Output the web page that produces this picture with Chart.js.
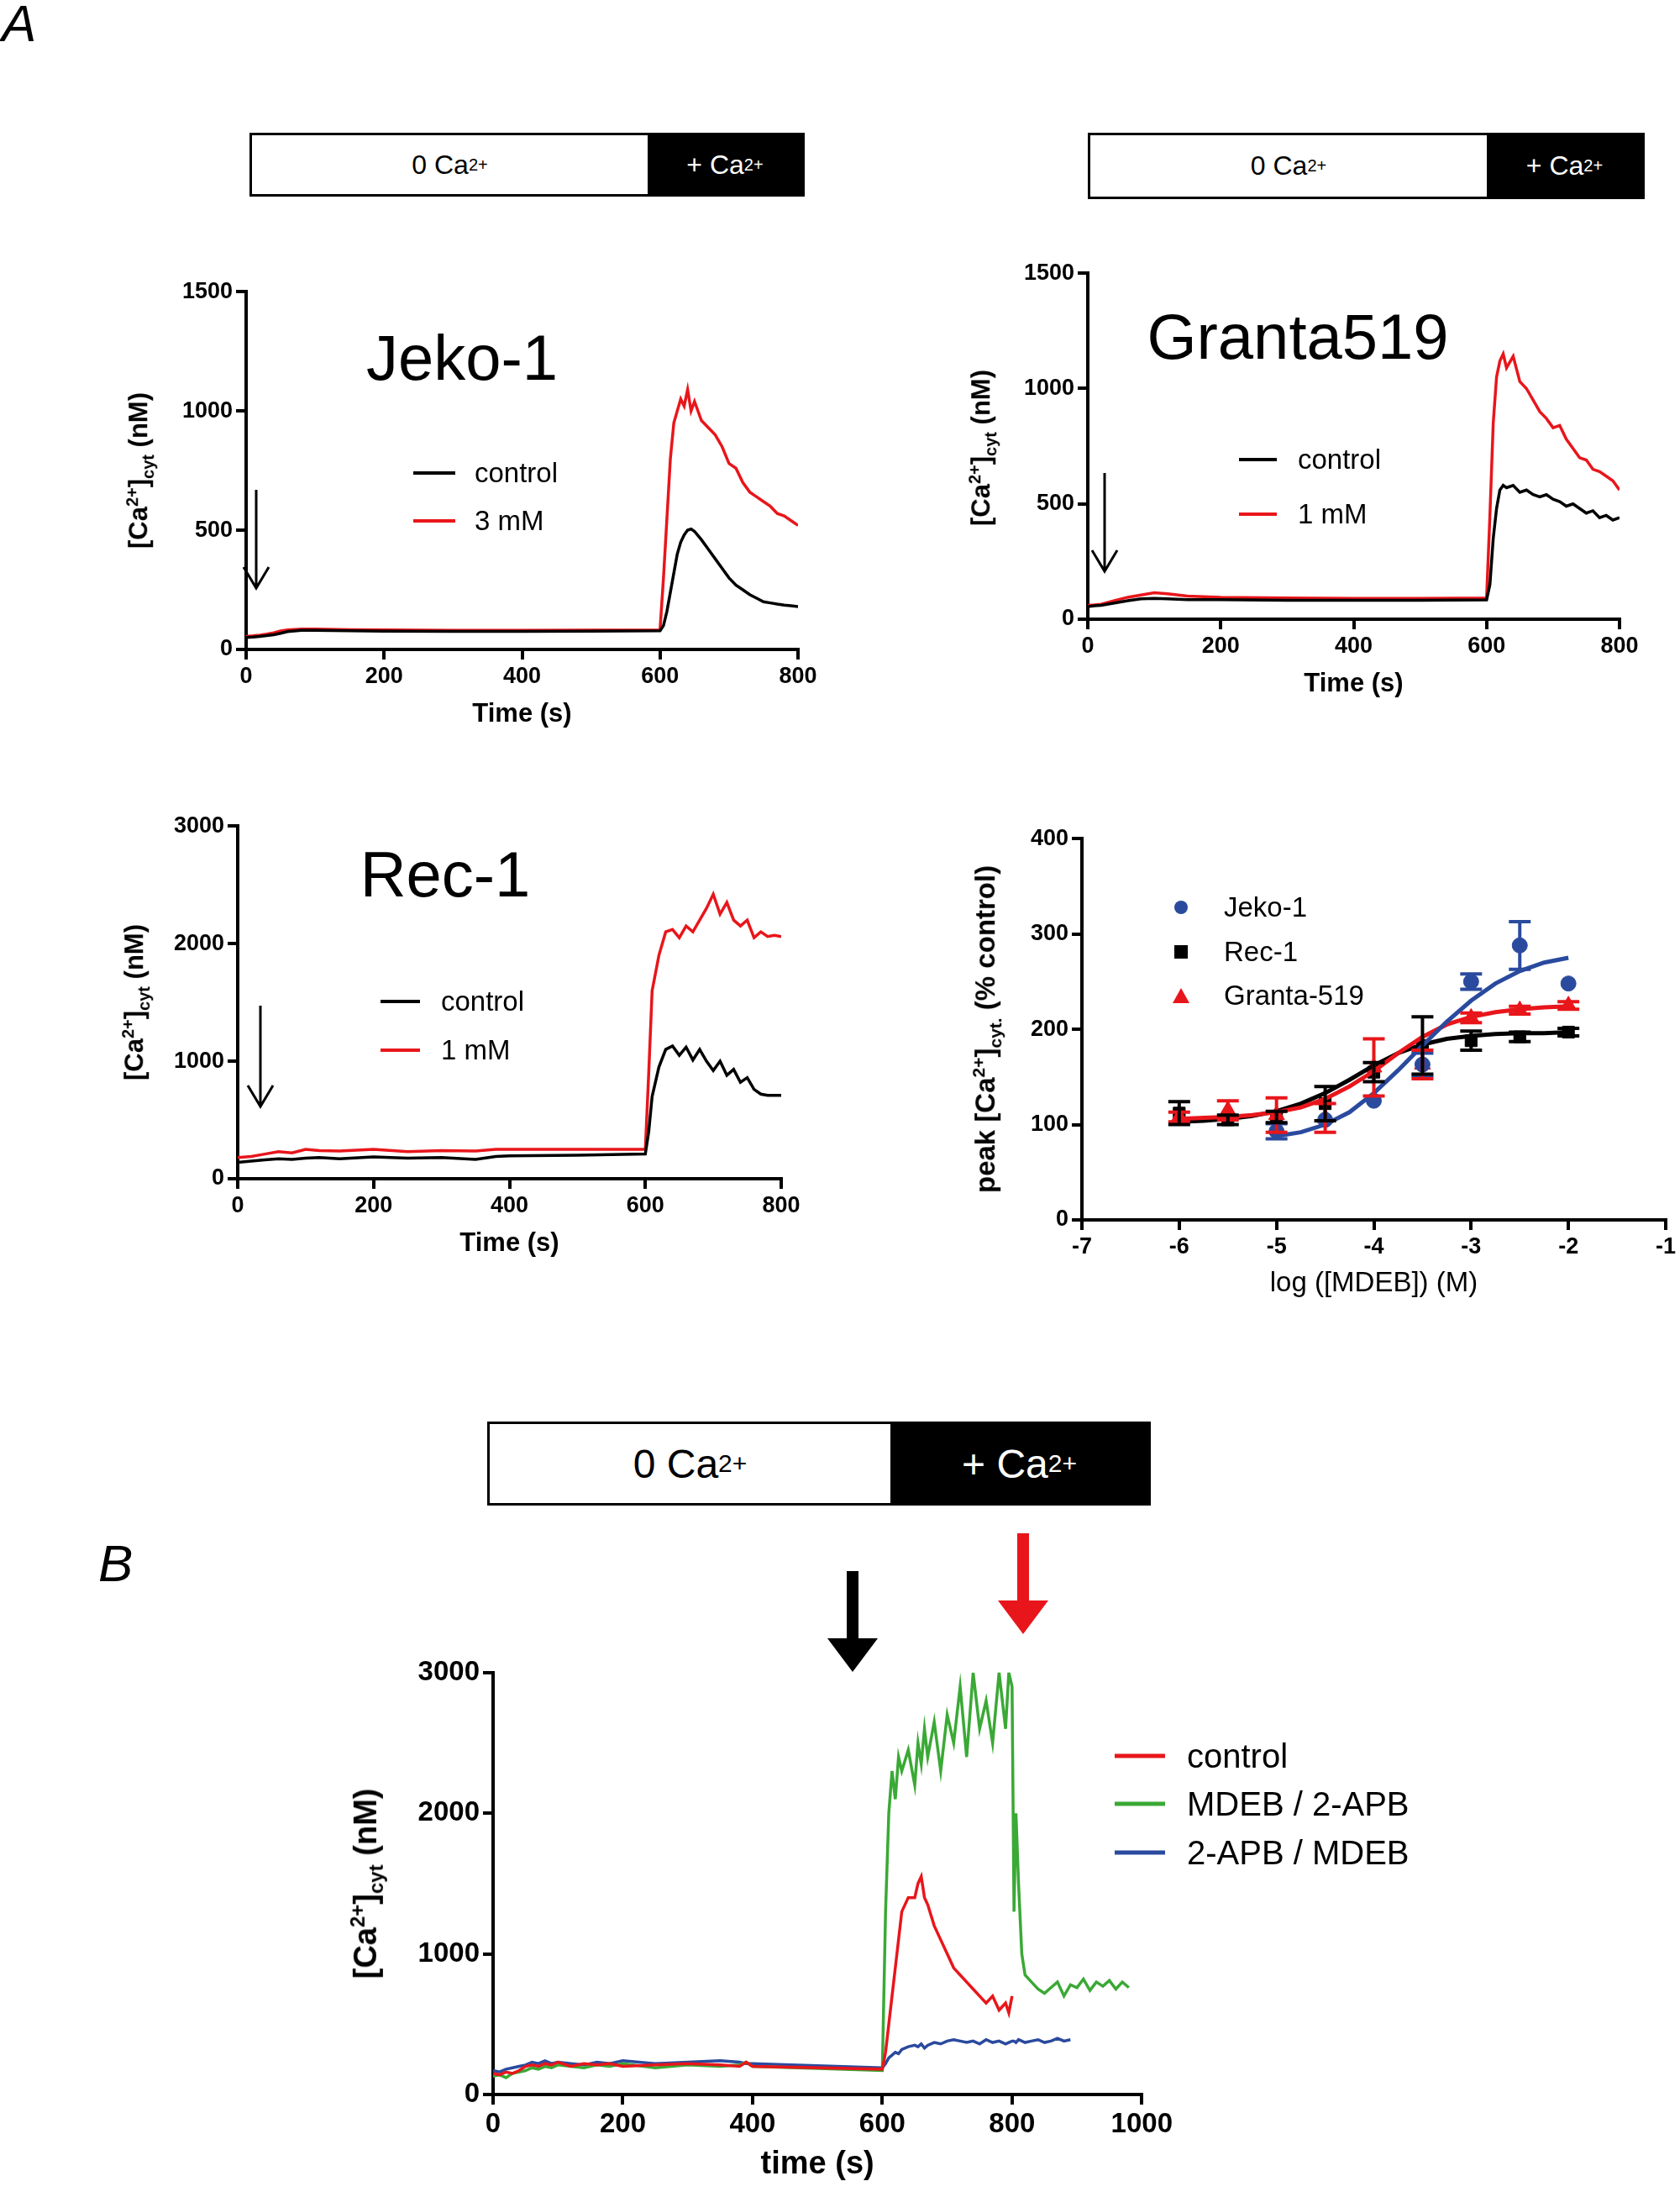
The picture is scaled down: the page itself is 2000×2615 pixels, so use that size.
<!DOCTYPE html>
<html><head><meta charset="utf-8">
<script src="https://cdn.jsdelivr.net/npm/chart.js@4"></script>
<style>
body{margin:0;width:2000px;height:2615px;background:#fff;position:relative;font-family:"Liberation Sans",Arial,sans-serif;overflow:hidden}
canvas{position:absolute}
.abs{position:absolute;white-space:nowrap}
.bar{position:absolute;border:3px solid #000;box-sizing:border-box;display:flex}
.bar div{display:flex;align-items:center;justify-content:center}
.ytitle{position:absolute;transform:translate(-50%,-50%) rotate(-90deg);font-weight:bold;white-space:nowrap}
.leg{position:absolute;display:flex;align-items:center;transform:translateY(-50%)}
</style></head><body>
<script>
// ---------- DATA ----------
const jekoTime=[0,10,20,30,40,50,60,80,100,150,200,300,400,500,600,605,610,615,620,625,630,635,640,645,650,660,670,680,690,700,710,720,730,740,750,760,770,780,790,800];
const jekoControl=[50,52,55,58,62,68,75,80,80,78,77,76,76,77,78,100,160,240,320,400,450,480,500,505,495,460,420,380,340,300,270,250,230,215,200,195,190,186,183,180];
const jeko3mM=[55,57,60,64,70,78,82,85,85,83,82,80,80,81,82,300,550,800,950,1000,1050,1020,1090,1000,1040,960,930,900,850,780,760,700,660,640,620,600,570,560,540,520];

const grantaTime=[0,10,20,40,60,80,100,120,150,200,300,400,500,600,605,610,615,620,625,630,640,650,660,670,680,690,700,710,720,730,740,750,760,770,780,790,800];
const grantaControl=[55,58,60,70,80,88,90,88,85,85,82,82,82,84,150,350,480,560,580,570,580,550,560,540,530,540,520,510,490,500,480,460,470,440,450,430,440];
const granta1mM=[60,62,65,80,95,105,115,110,100,95,92,90,90,92,450,850,1050,1120,1150,1090,1140,1030,1000,950,900,870,830,840,780,740,700,690,650,640,620,600,560];

const recTime=[0,20,40,60,80,100,120,150,200,250,300,350,380,400,500,600,605,610,620,630,640,650,660,670,680,690,700,710,720,730,740,750,760,770,780,790,800];
const recControl=[140,150,160,170,165,175,180,170,185,175,180,165,190,195,200,210,400,700,950,1100,1130,1050,1120,1010,1100,1000,920,1000,880,930,820,860,760,720,710,710,710];
const rec1mM=[180,190,210,230,220,250,240,235,250,230,240,235,250,250,250,250,900,1600,1900,2100,2120,2050,2150,2100,2200,2300,2420,2250,2350,2200,2150,2200,2050,2100,2060,2070,2060];

const doseX=[-6,-5.5,-5,-4.5,-4,-3.5,-3,-2.5,-2];
const jekoPeak=[null,null,93,105,125,163,250,288,248];
const jekoErr=[null,null,8,0,0,12,8,25,0];
const recPeak=[112,105,108,122,155,183,188,192,197];
const recErr=[12,5,6,18,10,30,10,5,4];
const grantaPeak=[108,115,110,107,160,163,212,220,225];
const grantaErr=[5,10,18,15,30,15,5,4,4];
const fitX=[-6,-5.75,-5.5,-5.25,-5,-4.75,-4.5,-4.25,-4,-3.75,-3.5,-3.25,-3,-2.75,-2.5,-2.25,-2];
const jekoFit=[null,null,null,null,88,92,100,113,133,157,183,208,230,248,261,270,275];
const grantaFit=[106,107,108,110,113,118,127,140,156,175,192,205,213,218,221,223,224];
const recFit=[103,104,106,109,114,122,133,147,162,175,184,190,193,195,196,196,197];

const bTime=[0,10,20,30,40,50,60,70,80,90,100,120,140,160,180,200,250,300,350,380,390,400,600,605,610,615,620,625,630,640,650,655,660,665,670,680,690,700,710,720,730,740,750,760,770,780,790,795,800,803,806,810,815,820,830,840,850,860,870,880,890,900,910,920,930,940,950,960,970,980];
const bControl=[150,140,160,150,170,200,210,200,220,210,230,200,220,210,220,200,210,220,210,200,230,200,180,300,500,700,900,1100,1300,1400,1400,1500,1550,1400,1350,1200,1100,1000,900,850,800,750,700,650,700,600,650,580,700];
const bMdeb=[130,140,120,150,160,170,190,180,200,190,210,200,190,210,200,220,190,210,200,210,230,200,170,1300,2000,2300,2100,2400,2300,2450,2200,2500,2350,2600,2400,2650,2300,2700,2500,2900,2400,3000,2600,2800,2500,3000,2600,3000,2900,1300,2000,1500,1000,850,800,750,720,760,800,700,780,760,820,740,800,770,810,750,800,760];
const bApb=[170,160,180,190,200,210,230,220,240,220,230,220,210,230,220,240,220,230,240,230,220,220,190,220,260,280,300,290,320,340,350,340,360,330,350,370,360,380,390,380,370,380,360,390,370,380,360,370,380,380,370,390,380,370,380,390,370,380,400,380,390];

// ---------- HELPERS ----------
const F='"Liberation Sans", Arial, sans-serif';
function xy(t,v){const o=[];for(let i=0;i<v.length;i++){if(v[i]!=null)o.push({x:t[i],y:v[i]});}return o;}
function place(id,ax,top,pw,ph,yw,xh){
  const c=document.createElement('canvas');
  const W=yw+pw+30,H=ph+xh+50;
  c.width=W;c.height=H;c.style.left=(ax-yw)+'px';c.style.top=(top-20)+'px';
  c.style.width=W+'px';c.style.height=H+'px';c.id=id;document.body.appendChild(c);
  return c;
}
function axisOpts(min,max,step,fs,title,yw,xh,isX,tfs,tbold){
  return {type:'linear',min,max,
    ticks:{stepSize:step,color:'#000',font:{family:F,size:fs,weight:'bold'},padding:4,callback:v=>String(v)},
    grid:{drawOnChartArea:false,color:'#000',lineWidth:4,tickLength:12,tickWidth:4},
    border:{color:'#000',width:4},
    title:{display:!!title,text:title||'',color:'#000',font:{family:F,size:tfs||fs+3,weight:tbold===false?'normal':'bold'},padding:{top:4}},
    afterFit:s=>{if(isX)s.height=xh;else s.width=yw;}
  };
}
function chart(id,ax,top,pw,ph,xr,yr,datasets,xtitle,fs,tfs,tbold,yw,xh,extraPlugins){
  yw=yw||110;xh=xh||100;
  const c=place(id,ax,top,pw,ph,yw,xh);
  return new Chart(c,{type:'line',data:{datasets},
    options:{responsive:false,animation:false,devicePixelRatio:1,
      layout:{padding:{top:20,right:30,left:0,bottom:30}},
      plugins:{legend:{display:false},tooltip:{enabled:false}},
      scales:{x:axisOpts(xr[0],xr[1],xr[2],fs,xtitle,yw,xh,true,tfs,tbold),
              y:axisOpts(yr[0],yr[1],yr[2],fs,null,yw,xh,false)}},
    plugins:extraPlugins||[]});
}
function line(data,color,w){return {data,borderColor:color,borderWidth:w||3.5,pointRadius:0,tension:0,fill:false};}

chart('c1',293,347,657,426,[0,800,200],[0,1500,500],
 [line(xy(jekoTime,jekoControl),'#000'),line(xy(jekoTime,jeko3mM),'#e8161b')],'Time (s)',27,31);
chart('c2',1295,325,633,412,[0,800,200],[0,1500,500],
 [line(xy(grantaTime,grantaControl),'#000'),line(xy(grantaTime,granta1mM),'#e8161b')],'Time (s)',27,31);
chart('c3',283,983,647,420,[0,800,200],[0,3000,1000],
 [line(xy(recTime,recControl),'#000'),line(xy(recTime,rec1mM),'#e8161b')],'Time (s)',27,31);
const errPlugin={id:'err',afterDatasetsDraw(ch){
  const ctx=ch.ctx,xs=ch.scales.x,ys=ch.scales.y;
  [[jekoPeak,jekoErr,'#2a4a9e'],[grantaPeak,grantaErr,'#e8161b'],[recPeak,recErr,'#000']].forEach(([v,e,col])=>{
    ctx.save();ctx.strokeStyle=col;ctx.lineWidth=4;
    doseX.forEach((x,i)=>{if(v[i]==null||!e[i])return;
      const px=xs.getPixelForValue(x);
      [v[i]+e[i],v[i]-e[i]].forEach(yv=>{const py=ys.getPixelForValue(yv),p0=ys.getPixelForValue(v[i]);
        ctx.beginPath();ctx.moveTo(px,p0);ctx.lineTo(px,py);ctx.moveTo(px-13,py);ctx.lineTo(px+13,py);ctx.stroke();});
    });ctx.restore();});
}};
function pts(v,col,style,r){return {data:xy(doseX,v),showLine:false,pointStyle:style,pointRadius:r,backgroundColor:col,borderColor:col};}
chart('c4',1288,998,695,454,[-7,-1,1],[0,400,100],
 [line(xy(fitX,jekoFit),'#2a4a9e',5),line(xy(fitX,grantaFit),'#e8161b',5),line(xy(fitX,recFit),'#000',5),
  pts(jekoPeak,'#2a4a9e','circle',9),pts(grantaPeak,'#e8161b','triangle',11),pts(recPeak,'#000','rect',10)],
 'log ([MDEB]) (M)',27,33,false,110,100,[errPlugin]);
chart('c5',587,1987,783,506,[0,1000,200],[0,3000,1000],
 [line(xy(bTime,bControl),'#e8161b'),line(xy(bTime,bMdeb),'#3aa935'),line(xy(bTime,bApb),'#2a4a9e')],'time (s)',33,38,true,130,110);
</script>

<div class="abs" style="left:2px;top:-8px;font-size:62px;font-style:italic">A</div>
<div class="abs" style="left:117px;top:1825px;font-size:62px;font-style:italic">B</div>

<div class="bar" style="left:297px;top:158px;width:661px;height:76px;font-size:32px"><div style="width:471px;background:#fff">0 Ca<sup style="font-size:20px">2+</sup></div><div style="flex:1;background:#000;color:#fff">+ Ca<sup style="font-size:20px">2+</sup></div></div>
<div class="bar" style="left:1295px;top:158px;width:663px;height:79px;font-size:32px"><div style="width:472px;background:#fff">0 Ca<sup style="font-size:20px">2+</sup></div><div style="flex:1;background:#000;color:#fff">+ Ca<sup style="font-size:20px">2+</sup></div></div>
<div class="bar" style="left:580px;top:1692px;width:790px;height:100px;font-size:48px"><div style="width:477px;background:#fff">0 Ca<sup style="font-size:30px">2+</sup></div><div style="flex:1;background:#000;color:#fff">+ Ca<sup style="font-size:30px">2+</sup></div></div>

<div class="abs" style="left:550px;top:425px;transform:translate(-50%,-50%);font-size:76px">Jeko-1</div>
<div class="abs" style="left:1545px;top:400px;transform:translate(-50%,-50%);font-size:76px">Granta519</div>
<div class="abs" style="left:530px;top:1040px;transform:translate(-50%,-50%);font-size:76px">Rec-1</div>

<div class="ytitle" style="left:167px;top:560px;font-size:31px">[Ca<sup style="font-size:20px">2+</sup>]<sub style="font-size:20px">cyt</sub> (nM)</div>
<div class="ytitle" style="left:1170px;top:533px;font-size:31px">[Ca<sup style="font-size:20px">2+</sup>]<sub style="font-size:20px">cyt</sub> (nM)</div>
<div class="ytitle" style="left:162px;top:1193px;font-size:31px">[Ca<sup style="font-size:20px">2+</sup>]<sub style="font-size:20px">cyt</sub> (nM)</div>
<div class="ytitle" style="left:1175px;top:1225px;font-size:33px">peak [Ca<sup style="font-size:21px">2+</sup>]<sub style="font-size:21px">cyt.</sub> (% control)</div>
<div class="ytitle" style="left:437px;top:2242px;font-size:38px">[Ca<sup style="font-size:24px">2+</sup>]<sub style="font-size:24px">cyt</sub> (nM)</div>

<div class="leg" style="left:492px;top:563px;font-size:33px"><span style="display:inline-block;width:50px;border-top:4px solid #000;margin-right:23px"></span>control</div>
<div class="leg" style="left:492px;top:620px;font-size:33px"><span style="display:inline-block;width:50px;border-top:4px solid #e8161b;margin-right:23px"></span>3 mM</div>
<div class="leg" style="left:1475px;top:547px;font-size:33px"><span style="display:inline-block;width:45px;border-top:4px solid #000;margin-right:25px"></span>control</div>
<div class="leg" style="left:1475px;top:612px;font-size:33px"><span style="display:inline-block;width:45px;border-top:4px solid #e8161b;margin-right:25px"></span>1 mM</div>
<div class="leg" style="left:453px;top:1192px;font-size:33px"><span style="display:inline-block;width:47px;border-top:4px solid #000;margin-right:25px"></span>control</div>
<div class="leg" style="left:453px;top:1250px;font-size:33px"><span style="display:inline-block;width:47px;border-top:4px solid #e8161b;margin-right:25px"></span>1 mM</div>

<div class="leg" style="left:1398px;top:1080px;font-size:33px"><span style="display:inline-block;width:16px;height:16px;border-radius:50%;background:#2a4a9e;margin-right:43px"></span>Jeko-1</div>
<div class="leg" style="left:1398px;top:1133px;font-size:33px"><span style="display:inline-block;width:16px;height:16px;background:#000;margin-right:43px"></span>Rec-1</div>
<div class="leg" style="left:1396px;top:1185px;font-size:33px"><span style="display:inline-block;width:0;height:0;border-left:10px solid transparent;border-right:10px solid transparent;border-bottom:18px solid #e8161b;margin-right:41px"></span>Granta-519</div>

<div class="leg" style="left:1327px;top:2090px;font-size:40px"><span style="display:inline-block;width:60px;border-top:5px solid #e8161b;margin-right:26px"></span>control</div>
<div class="leg" style="left:1327px;top:2147px;font-size:40px"><span style="display:inline-block;width:60px;border-top:5px solid #3aa935;margin-right:26px"></span>MDEB / 2-APB</div>
<div class="leg" style="left:1327px;top:2205px;font-size:40px"><span style="display:inline-block;width:60px;border-top:5px solid #2a4a9e;margin-right:26px"></span>2-APB / MDEB</div>

<svg class="abs" style="left:0;top:0" width="2000" height="2615">
 <g stroke="#000" stroke-width="3" fill="none">
  <path d="M305 583 L305 700 M290 675 L305 700 L320 675"/>
  <path d="M1315 563 L1315 680 M1300 655 L1315 680 L1330 655"/>
  <path d="M310 1197 L310 1317 M295 1292 L310 1317 L325 1292"/>
 </g>
 <path d="M1008 1870 L1022 1870 L1022 1950 L1045 1950 L1015 1990 L985 1950 L1008 1950 Z" fill="#000"/>
 <path d="M1211 1825 L1225 1825 L1225 1905 L1248 1905 L1218 1945 L1188 1905 L1211 1905 Z" fill="#e8161b"/>
</svg>
</body></html>
